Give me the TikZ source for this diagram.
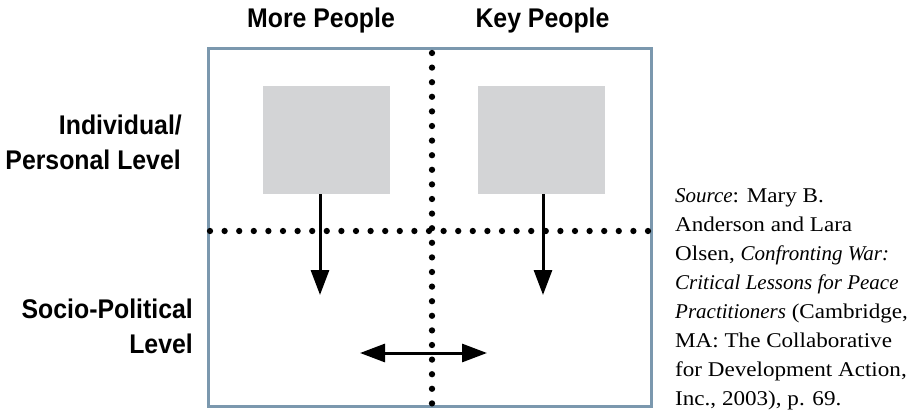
\documentclass[tikz,border=0pt]{standalone}
\usepackage{fontspec}
\setmainfont[FakeStretch=1.1]{Liberation Serif}
\newfontfamily\itfam{Liberation Serif}
\newfontfamily\labfont[FakeStretch=0.92]{Liberation Sans}
\newcommand{\srcit}[1]{{\itfam\itshape #1}}
\usetikzlibrary{arrows.meta}
\definecolor{frame}{HTML}{7B98AE}
\definecolor{boxgray}{HTML}{D3D4D6}
\tikzset{
  x=1pt, y=-1pt,
  lab/.style={font=\labfont\bfseries\fontsize{27}{35}\selectfont, inner sep=0pt},
  graybox/.style={fill=boxgray, draw=none, minimum width=127pt, minimum height=108pt, inner sep=0pt},
  dots/.style={line width=6.3pt, line cap=round, dash pattern=on 0pt off 14.6pt},
  flow/.style={line width=3pt, -{Triangle[length=25pt,width=18pt]}},
  both/.style={line width=3pt, {Triangle[length=25pt,width=18pt]}-{Triangle[length=25pt,width=18pt]}},
  src/.style={anchor=base west, inner sep=0pt, font=\fontsize{21}{28}\selectfont},
}
\begin{document}
\begin{tikzpicture}
\useasboundingbox (0,0) rectangle (924,417);
% frame
\node[draw=frame, line width=3pt, minimum width=443pt, minimum height=357pt, inner sep=0pt] (frame) at (429.5,227.5) {};
% dotted dividers
\coordinate (vt) at (432,53);
\coordinate (vb) at (432,404);
\coordinate (hl) at (210,231);
\coordinate (hr) at (650,231);
\draw[dots] (vt) -- (vb);
\draw[dots] (hl) -- (hr);
% gray boxes
\node[graybox] (b1) at (326.5,140) {};
\node[graybox] (b2) at (541.5,140) {};
% arrows
\coordinate (t1) at (320,295);
\coordinate (t2) at (543,295);
\draw[flow] (b1.south -| t1) -- (t1);
\draw[flow] (b2.south -| t2) -- (t2);
\coordinate (al) at (360,353);
\coordinate (ar) at (487,353);
\draw[both] (al) -- (ar);
% headings
\node[lab, anchor=base] (h1) at (321,28) {More People};
\node[lab, anchor=base] (h2) at (542.5,28) {Key People};
\node[lab, anchor=base east] (s1a) at (182,135) {Individual/};
\node[lab, anchor=base east] (s1b) at (181,170) {Personal Level};
\node[lab, anchor=base east] (s2a) at (193,318) {Socio-Political};
\node[lab, anchor=base east] (s2b) at (193,353) {Level};
% source
\node[src] (l1) at (675,203) {\srcit{Source}: Mary B.};
\node[src] (l2) at (675,231.9) {Anderson and Lara};
\node[src] (l3) at (675,260.7) {Olsen, \srcit{Confronting War:}};
\node[src] (l4) at (675,289.6) {\srcit{Critical Lessons for Peace}};
\node[src] (l5) at (675,318.4) {\srcit{Practitioners} (Cambridge,};
\node[src] (l6) at (675,347.3) {MA: The Collaborative};
\node[src] (l7) at (675,376.1) {for Development Action,};
\node[src] (l8) at (675,405) {Inc., 2003), p. 69.};
\end{tikzpicture}
\end{document}
